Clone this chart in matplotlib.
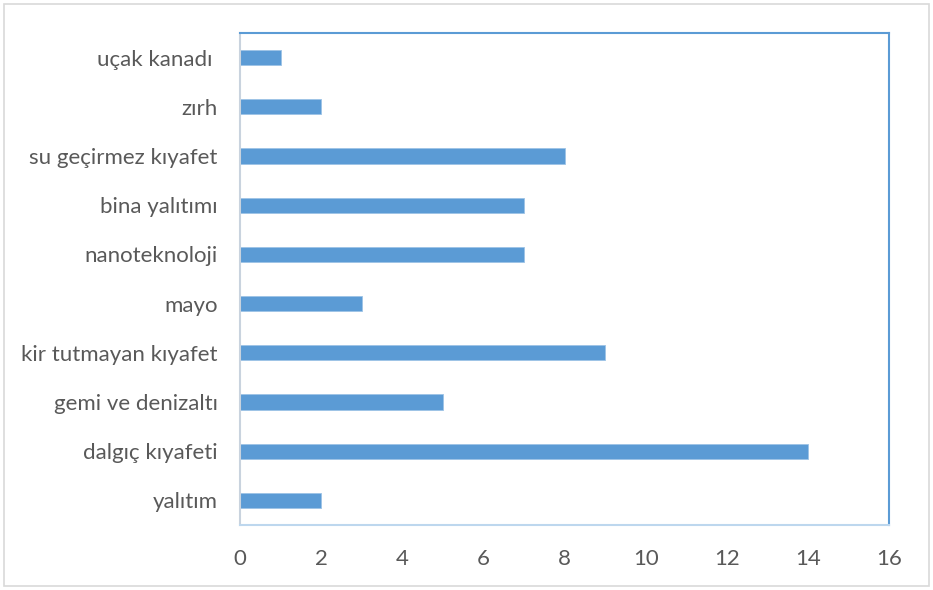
import matplotlib
matplotlib.use("Agg")
import matplotlib.pyplot as plt
from matplotlib.patches import Rectangle

categories = ["yalıtım", "dalgıç kıyafeti", "gemi ve denizaltı", "kir tutmayan kıyafet",
              "mayo", "nanoteknoloji", "bina yalıtımı", "su geçirmez kıyafet", "zırh", "uçak kanadı "]
values = [2, 14, 5, 9, 3, 7, 7, 8, 2, 1]
xticks = [0, 2, 4, 6, 8, 10, 12, 14, 16]

plt.rcParams['font.family'] = ['Lato', 'DejaVu Sans']

fig = plt.figure(figsize=(9.33, 5.9), dpi=100)
ax = fig.add_axes([240/933, 1-525/590, (889-240)/933, (525-33)/590])

bar_color = "#5B9BD5"
ax.barh(range(len(categories)), values, height=0.31, color=bar_color, edgecolor="#9DC3E6", linewidth=0.6)
ax.set_xlim(0, 16)
ax.set_ylim(-0.5, len(categories) - 0.5)
ax.set_xticks(xticks)
ax.set_xticklabels([str(t) for t in xticks])
ax.set_yticks(range(len(categories)))
ax.set_yticklabels(categories)
ax.tick_params(axis='both', length=0, colors="#595959", labelsize=16)
ax.tick_params(axis='x', pad=17)
ax.tick_params(axis='y', pad=16)

ax.spines['left'].set_color("#C9D3DE")
ax.spines['left'].set_linewidth(1.5)
ax.spines['top'].set_color("#5B9BD5")
ax.spines['top'].set_linewidth(1.5)
ax.spines['right'].set_color("#5B9BD5")
ax.spines['right'].set_linewidth(1.5)
ax.spines['bottom'].set_color("#BDD7EE")
ax.spines['bottom'].set_linewidth(1.5)

fig.patches.append(Rectangle((4/933, 4/590), 925/933, 582/590, transform=fig.transFigure,
                             fill=False, edgecolor="#D9D9D9", linewidth=1.2))

fig.savefig("out.png", dpi=100)
